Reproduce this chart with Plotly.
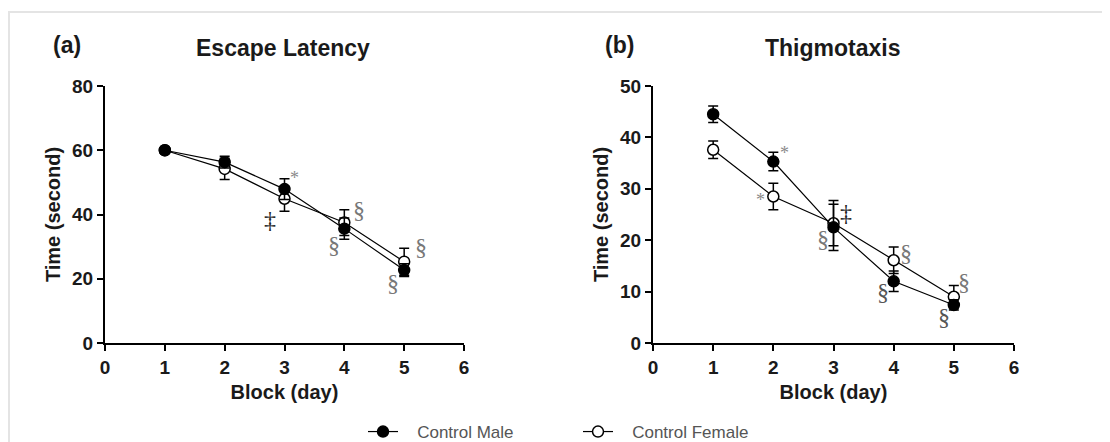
import plotly.graph_objects as go

W, H = 1110, 442
OFF = 8  # page body margin offset of the rendered figure

days = [1, 2, 3, 4, 5]

# Panel (a) Escape Latency
esc_male = [60.0, 56.3, 47.9, 35.6, 22.7]
esc_male_err = [0.6, 1.8, 3.2, 3.3, 2.0]
esc_female = [60.0, 54.2, 44.9, 37.5, 25.3]
esc_female_err = [0.6, 3.3, 3.9, 4.0, 4.2]

# Panel (b) Thigmotaxis
thig_male = [44.5, 35.3, 22.5, 12.0, 7.4]
thig_male_err = [1.6, 1.8, 4.5, 2.0, 1.0]
thig_female = [37.6, 28.5, 23.3, 16.1, 9.0]
thig_female_err = [1.7, 2.6, 4.4, 2.6, 2.2]

x_ticks = [0, 1, 2, 3, 4, 5, 6]
esc_ticks = [0, 20, 40, 60, 80]
thig_ticks = [0, 10, 20, 30, 40, 50]

# significance marks: (text, x, y, colour)
esc_marks = [("*", 3.17, 51.4, "#8a8a8a"), ("‡", 2.76, 38.3, "#222222"),
             ("§", 4.25, 41.4, "#777777"), ("§", 3.82, 30.5, "#777777"),
             ("§", 5.28, 29.9, "#777777"), ("§", 4.81, 18.7, "#777777")]
thig_marks = [("*", 2.18, 37.0, "#8a8a8a"), ("*", 1.78, 27.9, "#8a8a8a"),
              ("‡", 3.21, 25.2, "#222222"), ("§", 2.82, 20.3, "#777777"),
              ("§", 4.20, 17.6, "#777777"), ("§", 3.82, 9.9, "#555555"),
              ("§", 5.17, 11.8, "#777777"), ("§", 4.83, 5.0, "#555555")]

FONT = "Liberation Sans, Arial, sans-serif"
SERIF = "Liberation Serif, Times New Roman, serif"

def px_x(p):
    return (p - OFF) / W

def px_y(p):
    return (H - (p - OFF)) / H

fig = go.Figure()

def add_series(y, err, xa, ya, filled, name, show):
    fig.add_trace(go.Scatter(
        x=days, y=y, xaxis=xa, yaxis=ya, name=name, showlegend=show,
        mode="lines+markers",
        line=dict(color="black", width=1.2),
        marker=dict(symbol="circle", size=11,
                    color="black" if filled else "white",
                    line=dict(color="black", width=1.5)),
        error_y=dict(type="data", array=err, visible=True, color="black",
                     thickness=1.5, width=5),
        cliponaxis=False,
    ))

NB = "\u00a0\u00a0\u00a0"
add_series(esc_female, esc_female_err, "x", "y", False, NB + "Control Female", False)
add_series(esc_male, esc_male_err, "x", "y", True, NB + "Control Male", True)
add_series(thig_female, thig_female_err, "x2", "y2", False, NB + "Control Female", True)
add_series(thig_male, thig_male_err, "x2", "y2", True, NB + "Control Male", False)

axis_common = dict(
    showline=True, linecolor="black", linewidth=2, showgrid=False, zeroline=False,
    ticks="outside", ticklen=6, tickwidth=2, tickcolor="black",
    tickfont=dict(family=FONT, size=19, color="#1a1a1a", weight="bold"),
    mirror=False, automargin=False,
)
title_font = dict(family=FONT, size=20, color="#1a1a1a", weight="bold")

ydom = [px_y(343), px_y(86)]
fig.update_layout(
    width=W, height=H, margin=dict(l=0, r=0, t=0, b=0, pad=0), autosize=False,
    paper_bgcolor="white", plot_bgcolor="white",
    xaxis=dict(domain=[px_x(105), px_x(464)], range=[0, 6], tickvals=x_ticks,
               anchor="y", title=dict(text="Block (day)", font=title_font, standoff=8),
               **axis_common),
    yaxis=dict(domain=ydom, range=[0, 80], tickvals=esc_ticks, anchor="x",
               title=dict(text="Time (second)", font=title_font, standoff=6),
               **axis_common),
    xaxis2=dict(domain=[px_x(653), px_x(1014)], range=[0, 6], tickvals=x_ticks,
                anchor="y2", title=dict(text="Block (day)", font=title_font, standoff=8),
                **axis_common),
    yaxis2=dict(domain=ydom, range=[0, 50], tickvals=thig_ticks, anchor="x2",
                title=dict(text="Time (second)", font=title_font, standoff=6),
                **axis_common),
    legend=dict(orientation="h", x=px_x(363), xanchor="left", y=0,
                yanchor="bottom", font=dict(family=FONT, size=17, color="#555555"),
                entrywidth=170, entrywidthmode="pixels", bgcolor="rgba(0,0,0,0)"),
    showlegend=True,
)

anns = []
for txt, x, y, c in esc_marks:
    anns.append(dict(text=txt, x=x, y=y, xref="x", yref="y", showarrow=False,
                     font=dict(family=SERIF, size=24 if txt != "*" else 18, color=c)))
for txt, x, y, c in thig_marks:
    anns.append(dict(text=txt, x=x, y=y, xref="x2", yref="y2", showarrow=False,
                     font=dict(family=SERIF, size=24 if txt != "*" else 18, color=c)))

head_font = dict(family=FONT, size=23, color="#1a1a1a", weight="bold")
anns += [
    dict(text="(a)", x=px_x(51), y=px_y(45), xref="paper", yref="paper",
         xanchor="left", yanchor="middle", showarrow=False, font=head_font),
    dict(text="Escape Latency", x=px_x(283), y=px_y(48), xref="paper", yref="paper",
         xanchor="center", yanchor="middle", showarrow=False, font=head_font),
    dict(text="(b)", x=px_x(603), y=px_y(45), xref="paper", yref="paper",
         xanchor="left", yanchor="middle", showarrow=False, font=head_font),
    dict(text="Thigmotaxis", x=px_x(832), y=px_y(48), xref="paper", yref="paper",
         xanchor="center", yanchor="middle", showarrow=False, font=head_font),
]
fig.update_layout(annotations=anns)

fig.add_shape(type="rect", xref="paper", yref="paper",
              x0=px_x(9), x1=1.02, y0=-0.05, y1=px_y(12),
              line=dict(color="#e4e4e4", width=2), layer="below")

fig.write_html("out.html")
